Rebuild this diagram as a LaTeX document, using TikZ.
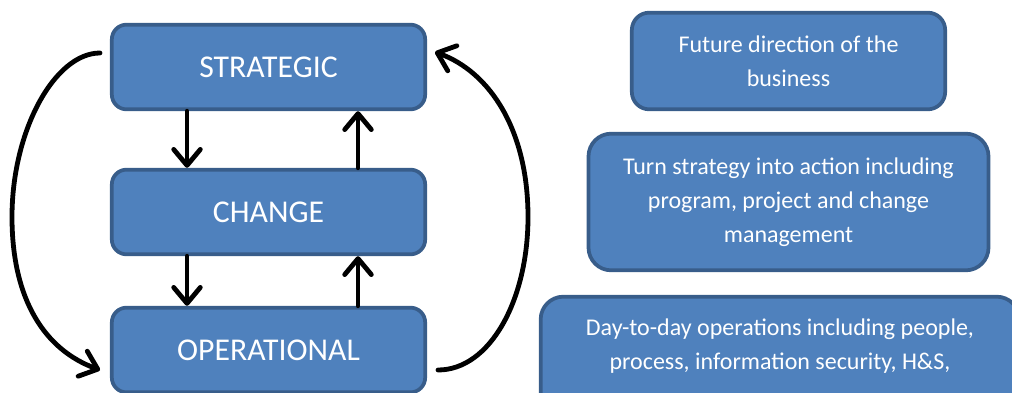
\documentclass[tikz,border=0pt]{standalone}
\usepackage{fontspec}
\setmainfont{Carlito}
\usetikzlibrary{arrows.meta}
\definecolor{boxfill}{HTML}{4F81BD}
\definecolor{boxline}{HTML}{385D8A}
\begin{document}
\begin{tikzpicture}[x=0.75pt,y=-0.75pt,
  lvl/.style={draw=boxline, fill=boxfill, line width=2.8pt, rounded corners=11pt,
    minimum width=235pt, minimum height=63.5pt, inner sep=0pt, text=white,
    font=\fontsize{23.8}{28}\selectfont},
  desc/.style={draw=boxline, fill=boxfill, line width=2.8pt, inner sep=0pt},
  desctext/.style={text=white, align=center, inner sep=0pt,
    font=\fontsize{18}{25.5}\selectfont},
  barb/.tip={Straight Barb[length=12pt,width=20pt,line cap=round,line join=round]},
  flow/.style={line width=3.6pt, line cap=round, -barb}]
\clip (0,0) rectangle (1012,392);

% the three levels
\node[lvl] (strat) at (268.5,67) {STRATEGIC};
\node[lvl] (chg) at (268.5,212) {CHANGE};
\node[lvl] (ops) at (268.5,350) {OPERATIONAL};

% descriptions
\node[desc, rounded corners=13pt, minimum width=235pt, minimum height=72.5pt,
  desctext] (d1) at (788.5,61) {Future direction of the\\business};
\node[desc, rounded corners=17pt, minimum width=300pt, minimum height=102.5pt,
  desctext] (d2) at (788.5,202) {Turn strategy into action including\\program, project and change\\management};
\node[desc, rounded corners=17pt, minimum width=359pt, minimum height=102.5pt] (d3) at (780,365) {};
\node[desctext] (d3t) at (780,346) {Day-to-day operations including people,\\process, information security, H\&S,};

% vertical flows between levels
\coordinate (xl) at (187,0);
\coordinate (xr) at (358,0);
\draw[flow] (xl |- strat.south) -- (xl |- chg.north);
\draw[flow] (xr |- chg.north) -- (xr |- strat.south);
\draw[flow] (xl |- chg.south) -- (xl |- ops.north);
\draw[flow] (xr |- ops.north) -- (xr |- chg.south);

% outer loops
\coordinate (ls) at (100,53);
\coordinate (le) at (100,370);
\coordinate (rs) at (438,370);
\coordinate (re) at (435,52);
\draw[flow] (ls) .. controls (55,53) and (12,130) .. (12,217)
  .. controls (12,300) and (45,350) .. (le);
\draw[flow] (rs) .. controls (490,370) and (528,300) .. (528,217)
  .. controls (528,130) and (490,72) .. (re);
\end{tikzpicture}
\end{document}
